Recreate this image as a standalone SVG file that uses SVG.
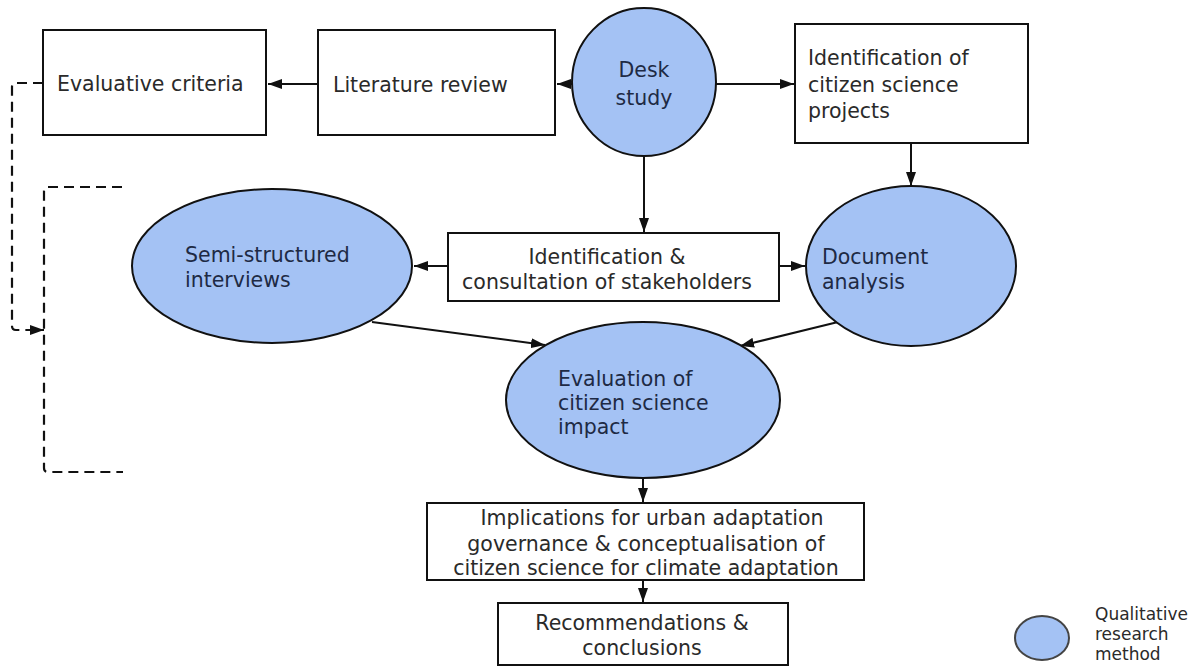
<svg xmlns="http://www.w3.org/2000/svg" width="1195" height="671" viewBox="0 0 1195 671">
  <style>
    .box { fill: #ffffff; stroke: #111; stroke-width: 2; }
    .method { fill: #a4c2f4; stroke: #111; stroke-width: 2; }
    .t { font-family: "DejaVu Sans", Verdana, sans-serif; font-size: 20.5px; fill: #2a2a2a; }
    .tm { font-family: "DejaVu Sans", Verdana, sans-serif; font-size: 20.5px; fill: #1e2a44; }
    .c { text-anchor: middle; }
    .legend { font-family: "DejaVu Sans", Verdana, sans-serif; font-size: 17px; fill: #2a2a2a; }
    .edge { fill: none; stroke: #111; stroke-width: 2; marker-end: url(#arrow); }
    .dash { fill: none; stroke: #111; stroke-width: 2.2; stroke-dasharray: 10 6; }
  </style>
  <defs>
    <marker id="arrow" viewBox="0 0 14 10" refX="14" refY="5" markerWidth="14" markerHeight="10" markerUnits="userSpaceOnUse" orient="auto">
      <path d="M0,0 L14,5 L0,10 z" fill="#111"/>
    </marker>
  </defs>
  <rect width="1195" height="671" fill="#ffffff"/>

  <!-- connectors -->
  <g id="connectors">
    <path class="edge" d="M318,84 L268,84"/>
    <path class="edge" d="M572,84 L557,84"/>
    <path class="edge" d="M716,84 L794,84"/>
    <path class="edge" d="M911,143 L911,186"/>
    <path class="edge" d="M644,157 L644,232"/>
    <path class="edge" d="M448,266 L414,266"/>
    <path class="edge" d="M779,266 L805,266"/>
    <path class="edge" d="M372,322 L545,345"/>
    <path class="edge" d="M838,322 L740,346"/>
    <path class="edge" d="M643,478 L643,502"/>
    <path class="edge" d="M643,580 L643,602"/>
    <!-- feedback loop from the evaluative criteria -->
    <path class="dash" d="M43,83 L16,83 Q12,83 12,87 L12,326 Q12,330 16,330 L30,330"/>
    <path class="edge" d="M30,330 L44,330"/>
    <!-- bracket grouping the methods -->
    <path class="dash" d="M122,187 L48,187 Q44,187 44,191 L44,468 Q44,472 48,472 L123,472"/>
  </g>

  <g id="evaluative-criteria">
    <rect class="box" x="43" y="30" width="223" height="105"/>
    <text class="t" x="57" y="91">Evaluative criteria</text>
  </g>

  <g id="literature-review">
    <rect class="box" x="318" y="30" width="237" height="105"/>
    <text class="t" x="333" y="92">Literature review</text>
  </g>

  <g id="desk-study">
    <ellipse class="method" cx="644" cy="82" rx="72" ry="74"/>
    <text class="tm c" x="644" y="77">Desk</text>
    <text class="tm c" x="644" y="105">study</text>
  </g>

  <g id="citizen-science-projects">
    <rect class="box" x="795" y="24" width="233" height="119"/>
    <text class="t" x="808" y="65">Identification of</text>
    <text class="t" x="808" y="92">citizen science</text>
    <text class="t" x="808" y="118">projects</text>
  </g>

  <g id="semi-structured-interviews">
    <ellipse class="method" cx="272" cy="266" rx="140" ry="77"/>
    <text class="tm" x="185" y="262">Semi-structured</text>
    <text class="tm" x="185" y="287">interviews</text>
  </g>

  <g id="stakeholders">
    <rect class="box" x="448" y="233" width="331" height="68"/>
    <text class="t c" x="607" y="264">Identification &amp;</text>
    <text class="t c" x="607" y="289">consultation of stakeholders</text>
  </g>

  <g id="document-analysis">
    <ellipse class="method" cx="911" cy="266" rx="105" ry="80"/>
    <text class="tm" x="822" y="264">Document</text>
    <text class="tm" x="822" y="289">analysis</text>
  </g>

  <g id="evaluation">
    <ellipse class="method" cx="643" cy="400" rx="137" ry="78"/>
    <text class="tm" x="558" y="386">Evaluation of</text>
    <text class="tm" x="558" y="410">citizen science</text>
    <text class="tm" x="558" y="434">impact</text>
  </g>

  <g id="implications">
    <rect class="box" x="427" y="503" width="437" height="77"/>
    <text class="t c" x="652" y="525">Implications for urban adaptation</text>
    <text class="t c" x="646" y="551">governance &amp; conceptualisation of</text>
    <text class="t c" x="646" y="575">citizen science for climate adaptation</text>
  </g>

  <g id="recommendations">
    <rect class="box" x="498" y="603" width="290" height="62"/>
    <text class="t c" x="642" y="630">Recommendations &amp;</text>
    <text class="t c" x="642" y="655">conclusions</text>
  </g>

  <g id="legend">
    <ellipse class="method" cx="1042" cy="638" rx="27" ry="22" style="stroke:#444"/>
    <text class="legend" x="1095" y="620">Qualitative</text>
    <text class="legend" x="1095" y="640">research</text>
    <text class="legend" x="1095" y="660">method</text>
  </g>
</svg>
